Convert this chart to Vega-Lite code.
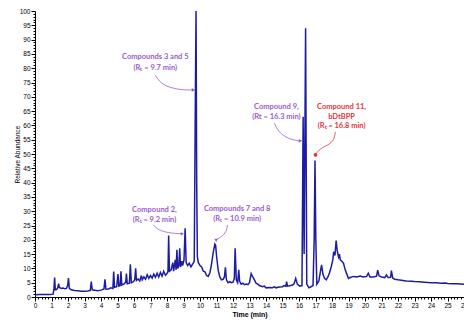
{
  "$schema": "https://vega.github.io/schema/vega-lite/v6.json",
  "autosize": {"type": "none"},
  "width": 429,
  "height": 286,
  "padding": {"left": 35, "top": 11, "right": 0, "bottom": 25},
  "background": "white",
  "config": {"view": {"stroke": null}},
  "datasets": {
    "chrom": [
      {"t":0.0,"v":0.8},{"t":0.3,"v":0.9},{"t":0.6,"v":0.9},{"t":0.9,"v":0.9},{"t":1.1,"v":1.0},{"t":1.15,"v":3.0},{"t":1.19,"v":6.8},{"t":1.23,"v":2.5},{"t":1.3,"v":2.6},{"t":1.38,"v":3.2},{"t":1.43,"v":4.7},{"t":1.48,"v":3.3},{"t":1.6,"v":3.0},{"t":1.7,"v":3.1},{"t":1.8,"v":2.9},{"t":1.9,"v":3.0},{"t":1.98,"v":4.0},{"t":2.03,"v":6.6},{"t":2.08,"v":3.0},{"t":2.2,"v":2.5},{"t":2.4,"v":2.3},{"t":2.6,"v":2.2},{"t":2.8,"v":2.0},{"t":3.0,"v":2.0},{"t":3.2,"v":2.1},{"t":3.35,"v":2.3},{"t":3.41,"v":5.4},{"t":3.47,"v":2.5},{"t":3.6,"v":2.4},{"t":3.8,"v":2.2},{"t":4.0,"v":2.4},{"t":4.18,"v":2.8},{"t":4.24,"v":6.2},{"t":4.3,"v":2.7},{"t":4.45,"v":2.8},{"t":4.6,"v":3.2},{"t":4.72,"v":3.0},{"t":4.77,"v":8.9},{"t":4.82,"v":3.4},{"t":4.95,"v":3.6},{"t":5.03,"v":8.0},{"t":5.08,"v":3.8},{"t":5.16,"v":4.0},{"t":5.21,"v":9.0},{"t":5.26,"v":4.2},{"t":5.4,"v":4.6},{"t":5.5,"v":5.2},{"t":5.54,"v":8.2},{"t":5.59,"v":4.6},{"t":5.72,"v":4.8},{"t":5.78,"v":11.4},{"t":5.84,"v":5.0},{"t":5.98,"v":5.4},{"t":6.05,"v":6.2},{"t":6.1,"v":10.0},{"t":6.15,"v":5.8},{"t":6.25,"v":6.3},{"t":6.35,"v":5.6},{"t":6.45,"v":7.5},{"t":6.5,"v":6.0},{"t":6.6,"v":7.0},{"t":6.7,"v":6.2},{"t":6.8,"v":7.8},{"t":6.9,"v":6.5},{"t":7.0,"v":7.5},{"t":7.1,"v":6.6},{"t":7.2,"v":8.0},{"t":7.3,"v":6.9},{"t":7.4,"v":8.3},{"t":7.5,"v":7.0},{"t":7.6,"v":8.6},{"t":7.7,"v":7.3},{"t":7.8,"v":9.0},{"t":7.9,"v":7.6},{"t":8.0,"v":8.2},{"t":8.06,"v":9.0},{"t":8.1,"v":21.5},{"t":8.15,"v":9.0},{"t":8.25,"v":9.5},{"t":8.35,"v":12.0},{"t":8.4,"v":9.0},{"t":8.5,"v":13.0},{"t":8.55,"v":9.5},{"t":8.6,"v":16.5},{"t":8.65,"v":10.0},{"t":8.72,"v":11.0},{"t":8.77,"v":17.0},{"t":8.82,"v":10.5},{"t":8.9,"v":12.5},{"t":8.95,"v":11.0},{"t":9.03,"v":13.0},{"t":9.1,"v":24.0},{"t":9.16,"v":12.0},{"t":9.25,"v":11.0},{"t":9.35,"v":11.8},{"t":9.45,"v":10.5},{"t":9.55,"v":11.5},{"t":9.65,"v":12.5},{"t":9.72,"v":70},{"t":9.76,"v":100},{"t":9.8,"v":40},{"t":9.84,"v":14},{"t":9.9,"v":12},{"t":10.0,"v":11},{"t":10.1,"v":10.5},{"t":10.2,"v":9.0},{"t":10.3,"v":8.8},{"t":10.4,"v":7.5},{"t":10.5,"v":7.2},{"t":10.6,"v":8.5},{"t":10.7,"v":11.5},{"t":10.8,"v":15.5},{"t":10.9,"v":18.5},{"t":10.95,"v":18.0},{"t":11.0,"v":14.5},{"t":11.1,"v":9.5},{"t":11.2,"v":7.0},{"t":11.3,"v":6.0},{"t":11.4,"v":6.2},{"t":11.48,"v":7.0},{"t":11.54,"v":10.4},{"t":11.6,"v":6.0},{"t":11.7,"v":5.0},{"t":11.8,"v":5.4},{"t":11.9,"v":5.0},{"t":12.0,"v":5.2},{"t":12.08,"v":6.5},{"t":12.13,"v":17.0},{"t":12.2,"v":6.0},{"t":12.28,"v":5.0},{"t":12.35,"v":9.5},{"t":12.4,"v":5.5},{"t":12.5,"v":4.5},{"t":12.6,"v":4.8},{"t":12.7,"v":4.3},{"t":12.8,"v":4.5},{"t":12.9,"v":4.3},{"t":13.0,"v":5.0},{"t":13.1,"v":8.2},{"t":13.2,"v":7.0},{"t":13.3,"v":6.0},{"t":13.4,"v":4.8},{"t":13.5,"v":4.5},{"t":13.6,"v":4.0},{"t":13.8,"v":3.6},{"t":13.9,"v":3.8},{"t":14.0,"v":3.2},{"t":14.2,"v":3.3},{"t":14.4,"v":3.2},{"t":14.5,"v":3.6},{"t":14.6,"v":3.2},{"t":14.8,"v":3.5},{"t":15.0,"v":3.6},{"t":15.1,"v":4.0},{"t":15.2,"v":3.8},{"t":15.25,"v":5.4},{"t":15.3,"v":3.8},{"t":15.5,"v":4.0},{"t":15.6,"v":4.2},{"t":15.7,"v":4.6},{"t":15.8,"v":6.5},{"t":15.9,"v":4.5},{"t":16.05,"v":3.8},{"t":16.18,"v":4.0},{"t":16.25,"v":63},{"t":16.31,"v":15},{"t":16.4,"v":94},{"t":16.47,"v":4.5},{"t":16.6,"v":3.2},{"t":16.7,"v":3.5},{"t":16.85,"v":4.0},{"t":16.92,"v":20},{"t":16.97,"v":47.7},{"t":17.02,"v":20},{"t":17.08,"v":4.5},{"t":17.2,"v":5.5},{"t":17.3,"v":9.0},{"t":17.37,"v":11.2},{"t":17.45,"v":8.0},{"t":17.55,"v":6.5},{"t":17.65,"v":6.0},{"t":17.75,"v":7.0},{"t":17.85,"v":8.5},{"t":17.95,"v":10.5},{"t":18.05,"v":13.0},{"t":18.1,"v":15.8},{"t":18.18,"v":14.5},{"t":18.25,"v":19.7},{"t":18.32,"v":16.0},{"t":18.4,"v":14.0},{"t":18.45,"v":15.0},{"t":18.5,"v":13.0},{"t":18.6,"v":12.5},{"t":18.7,"v":11.8},{"t":18.8,"v":9.5},{"t":18.9,"v":8.0},{"t":19.0,"v":6.5},{"t":19.1,"v":6.8},{"t":19.3,"v":7.2},{"t":19.5,"v":7.0},{"t":19.7,"v":7.3},{"t":19.9,"v":7.0},{"t":20.1,"v":7.2},{"t":20.2,"v":8.3},{"t":20.3,"v":7.0},{"t":20.5,"v":7.0},{"t":20.7,"v":7.3},{"t":20.77,"v":9.4},{"t":20.85,"v":7.4},{"t":21.0,"v":7.0},{"t":21.2,"v":6.8},{"t":21.3,"v":7.7},{"t":21.4,"v":6.8},{"t":21.55,"v":6.9},{"t":21.6,"v":9.2},{"t":21.68,"v":6.6},{"t":21.8,"v":6.2},{"t":22.0,"v":6.0},{"t":22.3,"v":5.8},{"t":22.5,"v":5.6},{"t":22.8,"v":5.5},{"t":23.0,"v":5.4},{"t":23.3,"v":5.3},{"t":23.6,"v":5.2},{"t":24.0,"v":5.0},{"t":24.3,"v":5.0},{"t":24.6,"v":4.8},{"t":24.9,"v":4.9},{"t":25.0,"v":4.7},{"t":25.3,"v":4.6},{"t":25.6,"v":4.6},{"t":26.0,"v":4.5}
    ],
    "labels": [
      {"t":7.29,"v":83.9,"text":"Compounds 3 and 5","kind":"other"},
      {"t":7.29,"v":80.1,"text":"(Rₜ = 9.7 min)","kind":"other"},
      {"t":7.24,"v":30.4,"text":"Compound 2,","kind":"other"},
      {"t":7.24,"v":26.9,"text":"(Rₜ = 9.2 min)","kind":"other"},
      {"t":12.25,"v":30.7,"text":"Compounds 7 and 8","kind":"other"},
      {"t":12.25,"v":27.3,"text":"(Rₜ = 10.9 min)","kind":"other"},
      {"t":14.63,"v":66.5,"text":"Compound 9,","kind":"other"},
      {"t":14.63,"v":62.8,"text":"(Rt = 16.3 min)","kind":"other"},
      {"t":18.58,"v":66.3,"text":"Compound 11,","kind":"target"},
      {"t":18.58,"v":63.1,"text":"bDtBPP","kind":"target"},
      {"t":18.58,"v":59.8,"text":"(Rₜ = 16.8 min)","kind":"target"}
    ],
    "arrows": [
      {"id":"a1","step":1,"t":7.29,"v":77.6,"kind":"other"},
      {"id":"a1","step":2,"t":7.6,"v":74.8,"kind":"other"},
      {"id":"a1","step":3,"t":8.2,"v":73.1,"kind":"other"},
      {"id":"a1","step":4,"t":8.93,"v":72.4,"kind":"other"},
      {"id":"a1","step":5,"t":9.54,"v":72.4,"kind":"other"},
      {"id":"a2","step":1,"t":7.17,"v":25.2,"kind":"other"},
      {"id":"a2","step":2,"t":7.48,"v":23.4,"kind":"other"},
      {"id":"a2","step":3,"t":8.08,"v":22.4,"kind":"other"},
      {"id":"a2","step":4,"t":8.85,"v":22.1,"kind":"other"},
      {"id":"a3","step":1,"t":11.66,"v":25.2,"kind":"other"},
      {"id":"a3","step":2,"t":11.6,"v":22.7,"kind":"other"},
      {"id":"a3","step":3,"t":11.3,"v":21.0,"kind":"other"},
      {"id":"a3","step":4,"t":11.02,"v":20.2,"kind":"other"},
      {"id":"a4","step":1,"t":14.51,"v":60.8,"kind":"other"},
      {"id":"a4","step":2,"t":14.75,"v":57.7,"kind":"other"},
      {"id":"a4","step":3,"t":15.36,"v":55.2,"kind":"other"},
      {"id":"a4","step":4,"t":16.0,"v":54.6,"kind":"other"},
      {"id":"a5","step":1,"t":18.21,"v":57.7,"kind":"target"},
      {"id":"a5","step":2,"t":18.09,"v":54.2,"kind":"target"},
      {"id":"a5","step":3,"t":17.6,"v":52.8,"kind":"target"},
      {"id":"a5","step":4,"t":17.18,"v":51.4,"kind":"target"},
      {"id":"a5","step":5,"t":17.0,"v":49.7,"kind":"target"}
    ],
    "heads": [
      {"t":9.6,"v":72.4,"head":"right","kind":"other"},
      {"t":8.93,"v":22.1,"head":"right","kind":"other"},
      {"t":10.98,"v":19.8,"head":"down","kind":"other"},
      {"t":16.09,"v":54.6,"head":"right","kind":"other"},
      {"t":17.0,"v":49.7,"head":"dot","kind":"target"}
    ]
  },
  "layer": [
    {
      "data": {"name": "chrom"},
      "mark": {"type": "line", "color": "#1c1ca3", "strokeWidth": 1.5, "clip": true},
      "encoding": {
        "x": {
          "field": "t", "type": "quantitative",
          "scale": {"domain": [0, 26], "nice": false, "zero": false},
          "axis": {
            "title": "Time (min)",
            "titleFont": "Liberation Sans", "titleFontSize": 7, "titleFontWeight": "bold", "titleColor": "black",
            "titlePadding": 2,
            "tickCount": 130,
            "labelExpr": "datum.value % 1 === 0 ? format(datum.value, 'd') : ''",
            "labelOverlap": false, "labelFlush": false,
            "labelFont": "Liberation Sans", "labelFontSize": 6.5, "labelColor": "black", "labelPadding": 1,
            "tickSize": {"condition": {"test": "datum.value % 1 === 0", "value": 4}, "value": 2},
            "tickColor": "black", "domainColor": "black", "domainWidth": 1, "grid": false
          }
        },
        "y": {
          "field": "v", "type": "quantitative",
          "scale": {"domain": [0, 100], "nice": false},
          "axis": {
            "title": "Relative Abundance",
            "titleFont": "Liberation Sans", "titleFontSize": 6.5, "titleFontWeight": "normal", "titleColor": "black",
            "titlePadding": -1,
            "tickCount": 100,
            "labelExpr": "datum.value % 5 === 0 ? datum.label : ''",
            "labelOverlap": false, "labelFlush": false,
            "labelFont": "Liberation Sans", "labelFontSize": 6.5, "labelColor": "black", "labelPadding": 1,
            "tickSize": {"condition": {"test": "datum.value % 5 === 0", "value": 4}, "value": 2},
            "tickColor": "black", "domainColor": "black", "domainWidth": 1, "grid": false
          }
        }
      }
    },
    {
      "data": {"name": "arrows"},
      "mark": {"type": "line", "interpolate": "basis", "strokeWidth": 0.8},
      "encoding": {
        "x": {"field": "t", "type": "quantitative"},
        "y": {"field": "v", "type": "quantitative"},
        "detail": {"field": "id"},
        "order": {"field": "step", "type": "quantitative"},
        "color": {"field": "kind", "type": "nominal", "scale": {"domain": ["other", "target"], "range": ["#9a5ccd", "#e5333b"]}, "legend": null}
      }
    },
    {
      "data": {"name": "heads"},
      "mark": {"type": "point", "filled": true, "opacity": 1, "size": 14},
      "encoding": {
        "x": {"field": "t", "type": "quantitative"},
        "y": {"field": "v", "type": "quantitative"},
        "shape": {"field": "head", "type": "nominal", "scale": {"domain": ["right", "down", "dot"], "range": ["triangle-right", "triangle-down", "circle"]}, "legend": null},
        "color": {"field": "kind", "type": "nominal", "scale": {"domain": ["other", "target"], "range": ["#9a5ccd", "#e5333b"]}, "legend": null}
      }
    },
    {
      "data": {"name": "labels"},
      "mark": {"type": "text", "font": "Lato", "fontSize": 7.5, "fontWeight": "bold", "align": "center", "baseline": "middle"},
      "encoding": {
        "x": {"field": "t", "type": "quantitative"},
        "y": {"field": "v", "type": "quantitative"},
        "text": {"field": "text"},
        "color": {"field": "kind", "type": "nominal", "scale": {"domain": ["other", "target"], "range": ["#9a5ccd", "#e5333b"]}, "legend": null}
      }
    }
  ]
}
